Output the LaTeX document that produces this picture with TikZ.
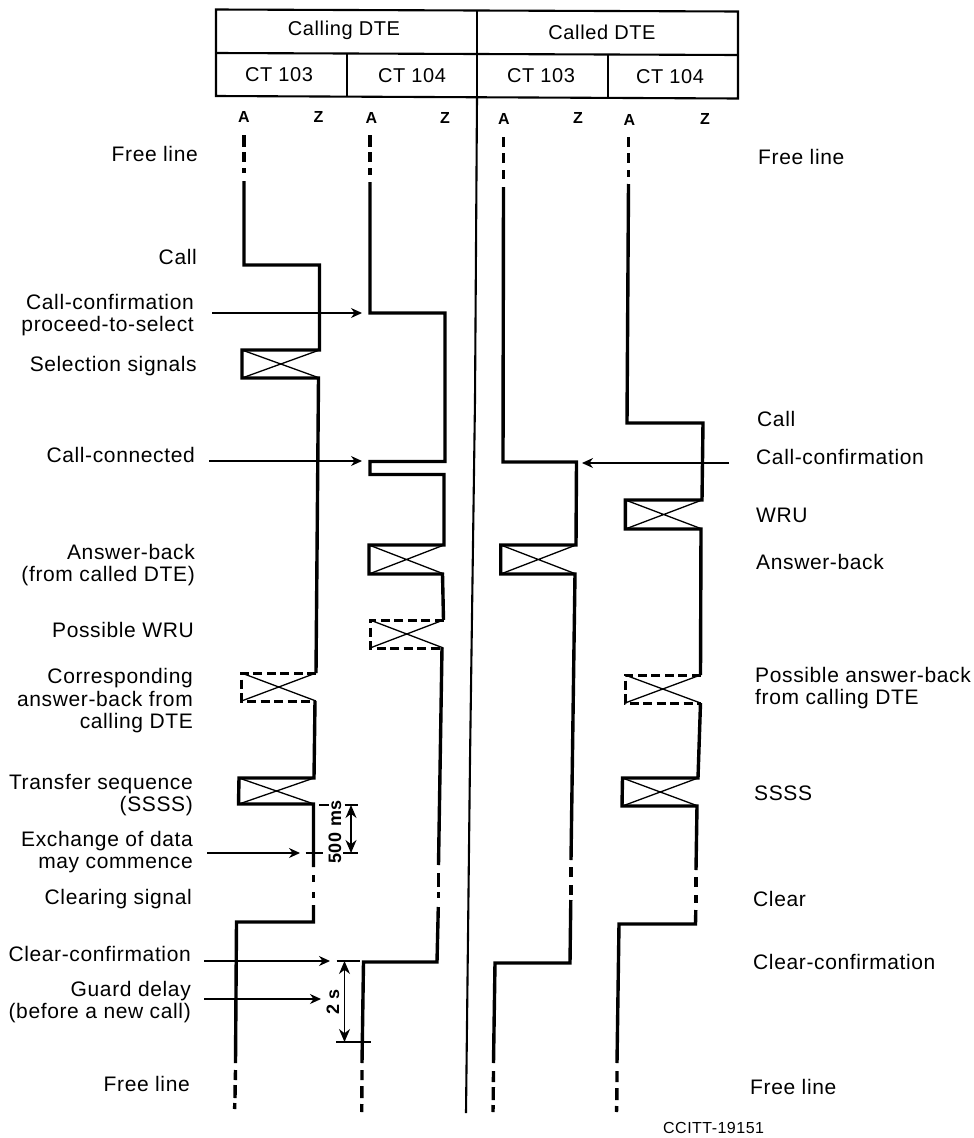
\documentclass[tikz,border=0pt]{standalone}
\usepackage{fontspec}
\setmainfont[LetterSpace=3]{Liberation Sans}
\usetikzlibrary{arrows.meta}
\tikzset{
  sig/.style={line width=3.4pt,line join=miter},
  boxd/.style={line width=3pt,dash pattern=on 9pt off 4.5pt},
  thinx/.style={line width=1.3pt},
  frame/.style={line width=2.1pt},
  arr/.style={line width=1.2pt,-{Stealth[length=11pt,width=10pt]}},
  dim/.style={line width=1.3pt,{Stealth[length=13pt,width=11pt]}-{Stealth[length=13pt,width=11pt]}},
  tick/.style={line width=1.3pt},
  lab/.style={font=\fontsize{21}{22.5}\selectfont,align=right,anchor=east,inner sep=0pt},
  labl/.style={font=\fontsize{21}{22.5}\selectfont,align=left,anchor=west,inner sep=0pt},
  head/.style={font=\fontsize{20}{22}\selectfont,inner sep=0pt},
  az/.style={font=\fontsize{16}{18}\selectfont\bfseries,inner sep=0pt},
  dimtxt/.style={inner sep=0pt,rotate=90,font=\fontsize{18}{20}\selectfont\bfseries},
}
\newcommand{\xcross}[4]{\draw[thinx] (#1,#2) -- (#3,#4) (#1,#4) -- (#3,#2);}
\newcommand{\ctt}[1]{CT\hspace{6pt}#1}
\begin{document}
\begin{tikzpicture}[x=1pt,y=-1pt]
\useasboundingbox (0,0) rectangle (974,1138);
\fill[white] (0,0) rectangle (974,1138);
% table
\draw[frame] (216,9.5) -- (738,11.5) -- (738,98.5) -- (216,96) -- cycle;
\draw[frame] (216,53) -- (738,55);
\draw[frame] (477,10.5) -- (477,97);
\draw[frame] (347,53.5) -- (347,96.5);
\draw[frame] (608,54.5) -- (608,97.5);
\node[head] (h1) at (344,30.5) {Calling DTE};
\node[head] (h2) at (602,32) {Called DTE};
\node[head] (c1) at (279,74.5) {\ctt{103}};
\node[head] (c2) at (412,75.5) {\ctt{104}};
\node[head] (c3) at (541,75.5) {\ctt{103}};
\node[head] (c4) at (670,77) {\ctt{104}};
\node[az] (a1) at (244,117) {A};
\node[az] (z1) at (318.5,117) {Z};
\node[az] (a2) at (371.5,118) {A};
\node[az] (z2) at (445,117.5) {Z};
\node[az] (a3) at (504,119) {A};
\node[az] (z3) at (578,118) {Z};
\node[az] (a4) at (629.5,120) {A};
\node[az] (z4) at (705,119) {Z};
% centre line
\draw[line width=2.1pt] (477,97) -- (475,400) -- (470,760) -- (466,1113);
% trace 1
\draw[sig] (244,135) -- (244,147) (244,152) -- (244,162) (244,168) -- (244,173);
\draw[sig] (244,181) -- (244,265) -- (319.5,265) -- (319.5,350) -- (242,350) -- (242,378) -- (318.5,378) -- (316,673);
\draw[boxd] (316,673) -- (241.5,673) -- (241.5,701) -- (315,701);
\draw[sig] (315,701) -- (314,778) -- (239,778) -- (238.5,804) -- (313.5,804) -- (313.5,867);
\draw[sig] (313.5,875) -- (313.5,882) (313.5,892) -- (313.5,898);
\draw[sig] (313.5,905) -- (313.5,922) -- (236.5,922) -- (235.5,1063);
\draw[sig] (235.5,1070) -- (235.3,1080) (235.2,1085) -- (235,1098) (234.8,1103) -- (234.6,1109);
\xcross{242}{350}{319.5}{378}
\xcross{241.5}{673}{316}{701}
\xcross{239}{778}{314}{804}
% trace 2
\draw[sig] (370,135) -- (370,147) (370,152) -- (370,162) (370,168) -- (370,175);
\draw[sig] (370,182) -- (370,313) -- (445,313) -- (445,461.5) -- (370,461.5) -- (370,474.5) -- (444,474.5) -- (444,545) -- (369,545) -- (369,574) -- (442.5,574) -- (443.5,620);
\draw[boxd] (443.5,620) -- (370,620) -- (370,648) -- (442,648);
\draw[sig] (442,648) -- (438.5,865);
\draw[sig] (438.5,873) -- (438.5,887) (438.4,892) -- (438.4,898);
\draw[sig] (438.3,907) -- (437,962) -- (363.5,962) -- (362,1063);
\draw[sig] (362,1070) -- (362,1080) (361.9,1086) -- (361.9,1098) (361.8,1104) -- (361.7,1112);
\xcross{369}{545}{444}{574}
\xcross{370}{620}{443.5}{648}
% trace 3
\draw[sig] (503.5,137) -- (503.5,147) (503.5,153) -- (503.5,163) (503.5,170) -- (503.5,179);
\draw[sig] (503.5,187) -- (503,462) -- (576.5,462) -- (576,545) -- (500.7,545) -- (500.7,574) -- (575,574) -- (571,860);
\draw[sig] (571,867) -- (571,877) (570.9,885) -- (570.9,895);
\draw[sig] (570.8,900) -- (570,963) -- (495,963) -- (493.5,1063);
\draw[sig] (493.5,1071) -- (493.4,1082) (493.3,1087) -- (493.2,1100) (493.1,1105) -- (493,1112);
\xcross{500.7}{545}{576}{574}
% trace 4
\draw[sig] (628.5,137) -- (628.5,147) (628.5,153) -- (628.5,163) (628.5,170) -- (628.5,177);
\draw[sig] (628.5,184) -- (627,423) -- (703,423) -- (702,500) -- (625.4,500) -- (625.4,529) -- (701,529) -- (700.5,675);
\draw[boxd] (700.5,675) -- (625,675) -- (625,703) -- (700.5,703);
\draw[sig] (700.5,703) -- (698,778) -- (622.5,778) -- (622,806) -- (697,806) -- (696,870);
\draw[sig] (696,877) -- (696,887) (695.9,895) -- (695.9,903);
\draw[sig] (695.8,910) -- (695.5,924) -- (619,924) -- (617,1063);
\draw[sig] (617,1071) -- (617,1082) (616.9,1088) -- (616.8,1100) (616.7,1106) -- (616.5,1112);
\xcross{625.4}{500}{702}{529}
\xcross{625}{675}{700.5}{703}
\xcross{622.5}{778}{698}{806}
% labels, left
\node[lab] (l1) at (198,154) {Free line};
\node[lab] (l2) at (197,257) {Call};
\node[lab] (l3) at (194,315) {Call-confirmation\\proceed-to-select};
\node[lab] (l4) at (197,366) {Selection signals};
\node[lab] (l5) at (195,455) {Call-connected};
\node[lab] (l6) at (195,565) {Answer-back\\(from called DTE)};
\node[lab] (l7) at (194,630) {Possible WRU};
\node[lab] (l8) at (193,701) {Corresponding\\answer-back from\\calling DTE};
\node[lab] (l9) at (193,795) {Transfer sequence\\(SSSS)};
\node[lab] (l10) at (193,852) {Exchange of data\\may commence};
\node[lab] (l11) at (192,899) {Clearing signal};
\node[lab] (l12) at (191,954) {Clear-confirmation};
\node[lab] (l13) at (191,1002) {Guard delay\\(before a new call)};
\node[lab] (l14) at (190,1084) {Free line};
% labels, right
\node[labl] (r1) at (758,157) {Free line};
\node[labl] (r2) at (757,419) {Call};
\node[labl] (r3) at (756,457) {Call-confirmation};
\node[labl] (r4) at (756,515) {WRU};
\node[labl] (r5) at (756,562) {Answer-back};
\node[labl] (r6) at (755,688) {Possible answer-back\\from calling DTE};
\node[labl] (r7) at (754,793) {SSSS};
\node[labl] (r8) at (753,899) {Clear};
\node[labl] (r9) at (753,962) {Clear-confirmation};
\node[labl] (r10) at (750,1087) {Free line};
\node[inner sep=0pt,anchor=west,font=\fontsize{16}{18}\selectfont] (ref) at (663,1128) {CCITT-19151};
% arrows
\coordinate (p1s) at (212,313); \coordinate (p1e) at (362,313);
\coordinate (p2s) at (209,461); \coordinate (p2e) at (362,461);
\coordinate (p3s) at (729,463); \coordinate (p3e) at (582,463);
\coordinate (p4s) at (207,853); \coordinate (p4e) at (300,853);
\coordinate (p5s) at (204,961); \coordinate (p5e) at (330,961);
\coordinate (p6s) at (204,999); \coordinate (p6e) at (321,999);
\draw[arr] (p1s) -- (p1e);
\draw[arr] (p2s) -- (p2e);
\draw[arr] (p3s) -- (p3e);
\draw[arr] (p4s) -- (p4e);
\draw[arr] (p5s) -- (p5e);
\draw[arr] (p6s) -- (p6e);
% 500 ms
\coordinate (d1t) at (351,805); \coordinate (d1b) at (351,853);
\draw[dim] (d1t) -- (d1b);
\draw[tick] (319,805) -- (329,805) (344.5,805) -- (357.5,805);
\draw[tick] (305.5,853) -- (323,853) (343,853) -- (357.5,853);
\node[dimtxt] (d1) at (335,832) {500 ms};
% 2 s
\coordinate (d2t) at (344.5,961); \coordinate (d2b) at (344.5,1042);
\draw[dim] (d2t) -- (d2b);
\draw[tick] (336.5,961) -- (360,961);
\draw[tick] (336,1042) -- (371,1042);
\node[dimtxt] (d2) at (333,1002) {2 s};
\end{tikzpicture}
\end{document}
